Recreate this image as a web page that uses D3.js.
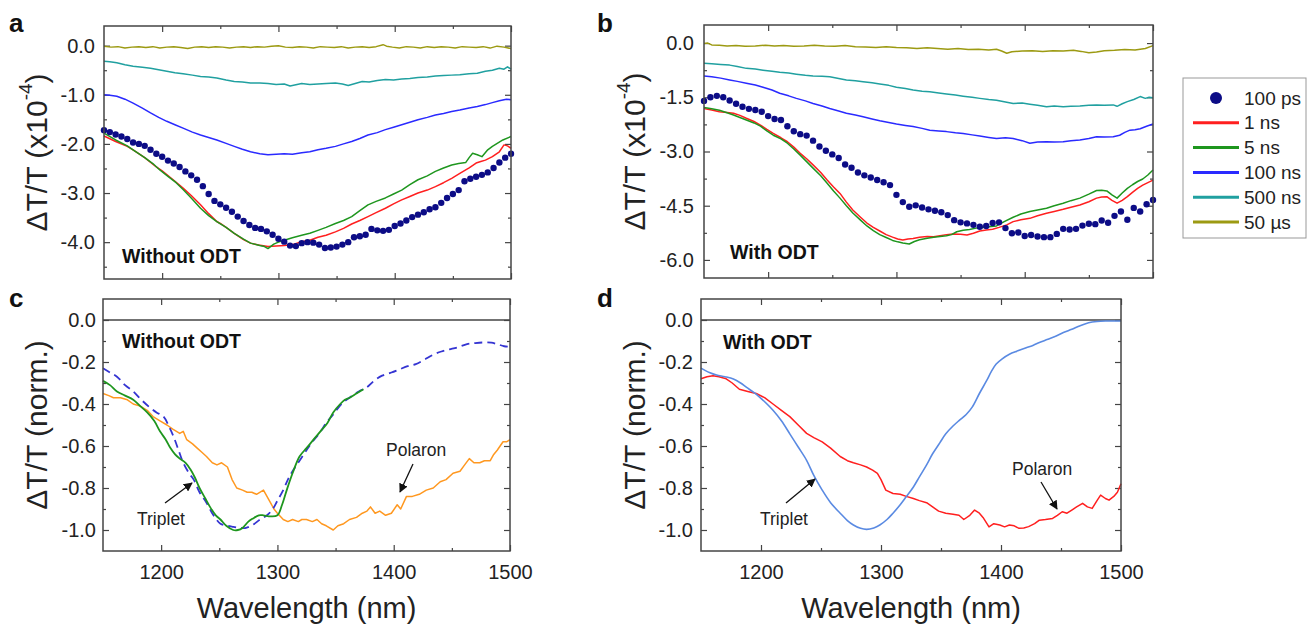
<!DOCTYPE html>
<html>
<head>
<meta charset="utf-8">
<script src="https://cdn.jsdelivr.net/npm/d3@7"></script>
<style>
  body { margin: 0; background: #fff; }
  svg { display: block; font-family: "Liberation Sans", Arial, sans-serif; }
</style>
</head>
<body>
<div id="chart"></div>
<script>
// ---- data: [wavelength nm, dT/T] ----
const legendLabels = ["100 ps", "1 ns", "5 ns", "100 ns", "500 ns", "50 \u00b5s"];
const xMajor = [1200, 1300, 1400, 1500];
const xMinor = [1250, 1350, 1450];

// panel a (without ODT), x1e-4
const aPs100 = [[1150,-1.72],[1155,-1.76],[1160,-1.81],[1165,-1.85],[1170,-1.90],[1175,-1.97],[1180,-2.00],[1185,-2.04],[1190,-2.12],[1195,-2.20],[1200,-2.26],[1205,-2.34],[1210,-2.40],[1215,-2.47],[1220,-2.56],[1225,-2.64],[1230,-2.73],[1235,-2.86],[1240,-3.02],[1245,-3.16],[1250,-3.23],[1255,-3.30],[1260,-3.38],[1265,-3.48],[1270,-3.57],[1275,-3.65],[1280,-3.71],[1285,-3.73],[1290,-3.78],[1295,-3.85],[1300,-3.93],[1305,-3.99],[1310,-4.07],[1315,-4.08],[1320,-4.02],[1325,-4.00],[1330,-4.01],[1335,-4.05],[1340,-4.12],[1345,-4.11],[1350,-4.09],[1355,-4.05],[1360,-4.00],[1365,-3.90],[1370,-3.88],[1375,-3.85],[1380,-3.73],[1385,-3.76],[1390,-3.77],[1395,-3.75],[1400,-3.67],[1405,-3.62],[1410,-3.56],[1415,-3.49],[1420,-3.44],[1425,-3.39],[1430,-3.33],[1435,-3.29],[1440,-3.20],[1445,-3.10],[1450,-3.02],[1455,-2.94],[1460,-2.76],[1465,-2.71],[1470,-2.67],[1475,-2.63],[1480,-2.58],[1485,-2.49],[1490,-2.38],[1495,-2.28],[1500,-2.20]];
const aNs1 = [[1150,-1.84],[1160,-1.95],[1170,-2.05],[1175,-2.12],[1185,-2.28],[1195,-2.47],[1200,-2.55],[1210,-2.74],[1218,-2.90],[1225,-3.05],[1233,-3.24],[1240,-3.42],[1247,-3.58],[1250,-3.62],[1255,-3.70],[1262,-3.82],[1270,-3.95],[1276,-4.02],[1283,-4.06],[1291,-4.09],[1298,-4.08],[1305,-4.07],[1312,-4.05],[1320,-3.99],[1327,-3.96],[1334,-3.90],[1341,-3.86],[1349,-3.79],[1356,-3.72],[1363,-3.63],[1370,-3.56],[1377,-3.48],[1384,-3.40],[1392,-3.31],[1399,-3.22],[1406,-3.14],[1413,-3.07],[1420,-3.00],[1428,-2.94],[1435,-2.87],[1442,-2.79],[1449,-2.70],[1456,-2.60],[1464,-2.49],[1470,-2.39],[1474,-2.36],[1478,-2.33],[1484,-2.26],[1490,-2.16],[1494,-2.02],[1497,-2.04],[1500,-2.09]];
const aNs5 = [[1150,-1.78],[1160,-1.92],[1170,-2.04],[1175,-2.12],[1185,-2.28],[1192,-2.40],[1198,-2.53],[1205,-2.66],[1212,-2.79],[1218,-2.93],[1225,-3.10],[1233,-3.31],[1240,-3.46],[1247,-3.58],[1255,-3.70],[1262,-3.82],[1270,-3.94],[1276,-4.02],[1284,-4.07],[1288,-4.09],[1291,-4.13],[1296,-4.04],[1300,-4.00],[1305,-3.96],[1312,-3.91],[1320,-3.86],[1327,-3.82],[1334,-3.76],[1341,-3.70],[1349,-3.62],[1356,-3.56],[1363,-3.48],[1370,-3.36],[1377,-3.24],[1384,-3.17],[1392,-3.10],[1399,-3.02],[1406,-2.94],[1413,-2.83],[1420,-2.73],[1428,-2.65],[1435,-2.56],[1442,-2.49],[1449,-2.43],[1455,-2.40],[1461,-2.38],[1464,-2.28],[1467,-2.19],[1471,-2.22],[1475,-2.26],[1480,-2.12],[1484,-2.05],[1493,-1.92],[1500,-1.85]];
const aNs100 = [[1150,-1.00],[1155,-1.01],[1161,-1.03],[1168,-1.09],[1175,-1.17],[1183,-1.27],[1190,-1.37],[1197,-1.46],[1204,-1.54],[1211,-1.61],[1218,-1.68],[1226,-1.76],[1233,-1.82],[1240,-1.87],[1247,-1.92],[1255,-1.99],[1262,-2.05],[1269,-2.11],[1276,-2.16],[1284,-2.20],[1291,-2.22],[1298,-2.21],[1305,-2.20],[1312,-2.21],[1320,-2.18],[1327,-2.16],[1334,-2.12],[1341,-2.09],[1349,-2.05],[1356,-2.00],[1363,-1.95],[1370,-1.89],[1377,-1.82],[1385,-1.77],[1392,-1.71],[1399,-1.66],[1406,-1.61],[1413,-1.56],[1420,-1.51],[1428,-1.46],[1435,-1.41],[1442,-1.38],[1449,-1.34],[1456,-1.31],[1464,-1.27],[1471,-1.24],[1478,-1.20],[1484,-1.16],[1490,-1.12],[1496,-1.09],[1500,-1.10]];
const aNs500 = [[1150,-0.32],[1155,-0.33],[1161,-0.35],[1168,-0.39],[1175,-0.42],[1183,-0.44],[1190,-0.46],[1197,-0.49],[1204,-0.52],[1211,-0.55],[1218,-0.57],[1226,-0.60],[1233,-0.63],[1240,-0.64],[1247,-0.66],[1255,-0.70],[1262,-0.73],[1269,-0.74],[1276,-0.76],[1284,-0.76],[1291,-0.77],[1298,-0.79],[1305,-0.78],[1310,-0.82],[1314,-0.80],[1320,-0.77],[1327,-0.79],[1334,-0.78],[1341,-0.77],[1349,-0.76],[1355,-0.78],[1360,-0.81],[1366,-0.77],[1372,-0.73],[1378,-0.74],[1385,-0.71],[1392,-0.69],[1399,-0.70],[1406,-0.68],[1413,-0.67],[1420,-0.65],[1428,-0.64],[1435,-0.62],[1442,-0.61],[1449,-0.60],[1456,-0.59],[1464,-0.57],[1471,-0.56],[1478,-0.52],[1484,-0.50],[1490,-0.46],[1494,-0.48],[1497,-0.43],[1500,-0.48]];
const aUs50 = [[1150,-0.01],[1156,-0.03],[1162,-0.02],[1168,-0.05],[1174,-0.03],[1180,-0.02],[1186,-0.04],[1192,-0.02],[1198,-0.05],[1204,-0.03],[1210,-0.02],[1216,-0.04],[1222,-0.06],[1228,-0.03],[1234,-0.02],[1240,-0.04],[1246,-0.02],[1252,-0.03],[1258,-0.05],[1264,-0.03],[1270,-0.02],[1276,-0.04],[1282,-0.02],[1288,-0.03],[1294,-0.01],[1300,0.00],[1306,-0.03],[1312,-0.04],[1318,-0.02],[1324,-0.03],[1330,-0.05],[1336,-0.02],[1342,-0.03],[1348,-0.04],[1354,-0.02],[1360,-0.05],[1366,-0.03],[1372,-0.02],[1378,-0.04],[1384,-0.02],[1390,0.02],[1393,-0.01],[1398,-0.03],[1404,-0.05],[1410,-0.02],[1416,-0.03],[1422,-0.05],[1428,-0.02],[1434,-0.04],[1440,-0.02],[1446,-0.03],[1452,-0.05],[1458,-0.02],[1464,-0.03],[1470,-0.04],[1476,-0.02],[1482,-0.05],[1488,-0.01],[1494,-0.03],[1500,-0.06]];

// panel b (with ODT), x1e-4
const bPs100 = [[1150,-1.60],[1155,-1.50],[1160,-1.46],[1165,-1.50],[1170,-1.59],[1175,-1.68],[1180,-1.76],[1185,-1.82],[1190,-1.85],[1195,-1.90],[1200,-2.02],[1205,-2.10],[1210,-2.13],[1215,-2.30],[1220,-2.44],[1225,-2.52],[1230,-2.56],[1235,-2.70],[1240,-2.86],[1245,-2.98],[1250,-3.08],[1255,-3.18],[1260,-3.36],[1265,-3.45],[1270,-3.58],[1275,-3.66],[1280,-3.72],[1285,-3.79],[1290,-3.85],[1295,-3.93],[1300,-4.20],[1305,-4.40],[1310,-4.53],[1315,-4.49],[1320,-4.55],[1325,-4.60],[1330,-4.64],[1335,-4.68],[1340,-4.76],[1345,-4.90],[1350,-4.96],[1355,-4.99],[1360,-5.03],[1365,-5.08],[1370,-5.06],[1375,-4.98],[1380,-4.96],[1385,-5.12],[1390,-5.26],[1395,-5.24],[1400,-5.34],[1405,-5.31],[1410,-5.35],[1415,-5.37],[1420,-5.37],[1425,-5.28],[1430,-5.14],[1435,-5.16],[1440,-5.14],[1445,-5.05],[1450,-5.00],[1455,-5.01],[1460,-4.91],[1465,-4.97],[1470,-4.78],[1475,-4.66],[1480,-4.89],[1485,-4.56],[1490,-4.66],[1495,-4.46],[1500,-4.34]];
const bNs1 = [[1150,-1.81],[1156,-1.85],[1162,-1.90],[1168,-1.92],[1173,-1.94],[1178,-2.00],[1183,-2.08],[1189,-2.17],[1194,-2.27],[1199,-2.39],[1204,-2.50],[1210,-2.62],[1215,-2.73],[1220,-2.88],[1225,-3.05],[1230,-3.20],[1235,-3.37],[1241,-3.58],[1246,-3.79],[1251,-3.98],[1256,-4.16],[1261,-4.40],[1266,-4.62],[1272,-4.82],[1277,-4.98],[1282,-5.10],[1287,-5.20],[1292,-5.30],[1297,-5.37],[1301,-5.42],[1305,-5.45],[1309,-5.42],[1313,-5.41],[1318,-5.37],[1324,-5.35],[1329,-5.36],[1334,-5.33],[1339,-5.30],[1344,-5.28],[1350,-5.29],[1355,-5.31],[1360,-5.26],[1365,-5.20],[1370,-5.17],[1375,-5.15],[1380,-5.10],[1386,-5.03],[1391,-4.94],[1397,-4.89],[1404,-4.85],[1410,-4.78],[1417,-4.71],[1423,-4.66],[1430,-4.60],[1436,-4.54],[1443,-4.48],[1450,-4.39],[1456,-4.29],[1460,-4.26],[1464,-4.25],[1468,-4.35],[1472,-4.43],[1476,-4.35],[1480,-4.25],[1484,-4.13],[1488,-4.02],[1492,-3.93],[1496,-3.86],[1500,-3.79]];
const bNs5 = [[1150,-1.78],[1156,-1.82],[1162,-1.86],[1168,-1.93],[1173,-1.99],[1178,-2.06],[1183,-2.13],[1189,-2.21],[1194,-2.30],[1199,-2.43],[1204,-2.55],[1210,-2.65],[1215,-2.77],[1220,-2.93],[1225,-3.10],[1230,-3.28],[1235,-3.46],[1241,-3.67],[1246,-3.88],[1251,-4.09],[1256,-4.29],[1261,-4.50],[1266,-4.70],[1272,-4.90],[1277,-5.06],[1282,-5.19],[1287,-5.30],[1292,-5.38],[1297,-5.46],[1301,-5.50],[1305,-5.53],[1310,-5.56],[1314,-5.49],[1318,-5.44],[1324,-5.40],[1329,-5.37],[1334,-5.35],[1339,-5.33],[1343,-5.30],[1347,-5.22],[1352,-5.18],[1357,-5.16],[1362,-5.12],[1367,-5.10],[1372,-5.08],[1378,-5.06],[1384,-4.94],[1391,-4.82],[1397,-4.73],[1404,-4.66],[1410,-4.62],[1417,-4.57],[1423,-4.50],[1430,-4.43],[1436,-4.36],[1443,-4.29],[1450,-4.18],[1456,-4.08],[1460,-4.07],[1464,-4.09],[1468,-4.20],[1472,-4.29],[1476,-4.15],[1480,-4.02],[1484,-3.92],[1488,-3.83],[1492,-3.76],[1496,-3.65],[1500,-3.51]];
const bNs100 = [[1150,-0.91],[1156,-0.93],[1163,-0.97],[1170,-1.02],[1176,-1.06],[1183,-1.11],[1190,-1.16],[1196,-1.22],[1203,-1.30],[1209,-1.39],[1216,-1.46],[1222,-1.53],[1229,-1.60],[1235,-1.67],[1242,-1.74],[1248,-1.81],[1255,-1.88],[1261,-1.94],[1268,-1.99],[1274,-2.04],[1281,-2.10],[1287,-2.15],[1294,-2.20],[1300,-2.24],[1307,-2.28],[1313,-2.31],[1320,-2.36],[1326,-2.41],[1333,-2.43],[1339,-2.45],[1346,-2.48],[1352,-2.50],[1359,-2.54],[1365,-2.57],[1372,-2.61],[1378,-2.64],[1385,-2.62],[1391,-2.64],[1398,-2.70],[1404,-2.77],[1410,-2.74],[1417,-2.73],[1423,-2.74],[1430,-2.73],[1436,-2.70],[1443,-2.68],[1450,-2.64],[1456,-2.59],[1462,-2.60],[1469,-2.59],[1474,-2.55],[1478,-2.47],[1482,-2.41],[1486,-2.40],[1490,-2.37],[1495,-2.30],[1500,-2.24]];
const bNs500 = [[1150,-0.56],[1156,-0.57],[1163,-0.59],[1170,-0.61],[1176,-0.65],[1183,-0.70],[1190,-0.72],[1196,-0.75],[1203,-0.78],[1209,-0.81],[1216,-0.83],[1222,-0.86],[1229,-0.89],[1235,-0.91],[1242,-0.92],[1248,-0.93],[1255,-0.98],[1261,-1.02],[1268,-1.04],[1274,-1.07],[1281,-1.10],[1287,-1.13],[1294,-1.17],[1300,-1.22],[1307,-1.26],[1313,-1.30],[1320,-1.33],[1326,-1.35],[1333,-1.38],[1339,-1.41],[1346,-1.44],[1352,-1.47],[1359,-1.50],[1365,-1.53],[1372,-1.56],[1378,-1.58],[1385,-1.63],[1391,-1.67],[1398,-1.66],[1404,-1.69],[1410,-1.72],[1417,-1.76],[1423,-1.74],[1430,-1.76],[1436,-1.75],[1443,-1.74],[1450,-1.72],[1456,-1.71],[1462,-1.72],[1469,-1.71],[1472,-1.75],[1476,-1.68],[1480,-1.62],[1485,-1.56],[1490,-1.48],[1494,-1.53],[1497,-1.50],[1500,-1.51]];
const bUs50 = [[1150,-0.01],[1153,0.00],[1156,-0.05],[1162,-0.06],[1168,-0.08],[1175,-0.07],[1182,-0.09],[1190,-0.08],[1198,-0.06],[1205,-0.08],[1212,-0.07],[1220,-0.09],[1228,-0.08],[1236,-0.06],[1244,-0.08],[1252,-0.09],[1260,-0.07],[1268,-0.10],[1276,-0.11],[1284,-0.12],[1292,-0.10],[1300,-0.12],[1308,-0.13],[1316,-0.15],[1324,-0.13],[1332,-0.15],[1340,-0.17],[1348,-0.15],[1356,-0.18],[1364,-0.17],[1372,-0.19],[1378,-0.17],[1382,-0.22],[1386,-0.28],[1390,-0.24],[1398,-0.22],[1406,-0.21],[1414,-0.23],[1422,-0.21],[1430,-0.22],[1438,-0.20],[1444,-0.23],[1450,-0.27],[1456,-0.25],[1462,-0.21],[1470,-0.20],[1478,-0.18],[1486,-0.19],[1494,-0.15],[1500,-0.07]];

// panel c (without ODT), normalised
const cPolaron = [[1150,-0.35],[1155,-0.36],[1159,-0.37],[1165,-0.37],[1171,-0.38],[1176,-0.40],[1182,-0.41],[1188,-0.43],[1193,-0.46],[1199,-0.48],[1205,-0.50],[1210,-0.52],[1216,-0.54],[1219,-0.53],[1222,-0.57],[1227,-0.59],[1231,-0.61],[1235,-0.63],[1239,-0.65],[1244,-0.68],[1248,-0.69],[1252,-0.68],[1257,-0.70],[1261,-0.76],[1265,-0.80],[1270,-0.81],[1274,-0.82],[1278,-0.82],[1282,-0.83],[1288,-0.81],[1291,-0.84],[1294,-0.87],[1297,-0.90],[1300,-0.92],[1305,-0.95],[1309,-0.96],[1313,-0.95],[1318,-0.96],[1321,-0.95],[1325,-0.95],[1330,-0.96],[1334,-0.95],[1338,-0.97],[1342,-0.98],[1348,-1.00],[1352,-0.98],[1357,-0.97],[1362,-0.95],[1368,-0.94],[1373,-0.92],[1377,-0.91],[1380,-0.89],[1384,-0.92],[1388,-0.91],[1393,-0.93],[1398,-0.92],[1403,-0.88],[1406,-0.90],[1411,-0.84],[1416,-0.84],[1422,-0.83],[1428,-0.81],[1434,-0.80],[1440,-0.77],[1445,-0.76],[1451,-0.73],[1457,-0.72],[1461,-0.69],[1465,-0.66],[1469,-0.68],[1474,-0.68],[1478,-0.67],[1483,-0.67],[1486,-0.64],[1489,-0.62],[1494,-0.58],[1497,-0.58],[1500,-0.57]];
const cTriplet = [[1150,-0.29],[1156,-0.31],[1162,-0.34],[1169,-0.36],[1176,-0.38],[1182,-0.41],[1188,-0.44],[1194,-0.48],[1199,-0.53],[1204,-0.57],[1208,-0.61],[1212,-0.64],[1216,-0.66],[1221,-0.68],[1225,-0.71],[1229,-0.75],[1233,-0.80],[1238,-0.85],[1242,-0.89],[1247,-0.93],[1251,-0.95],[1256,-0.98],[1262,-1.00],[1266,-1.00],[1270,-0.99],[1275,-0.96],[1279,-0.945],[1284,-0.93],[1288,-0.93],[1294,-0.935],[1300,-0.93],[1304,-0.88],[1308,-0.81],[1313,-0.73],[1319,-0.65],[1325,-0.61],[1331,-0.57],[1337,-0.53],[1343,-0.49],[1348,-0.44],[1354,-0.40],[1358,-0.38],[1362,-0.37],[1368,-0.35],[1374,-0.33]];
const cTripletDash = [[1150,-0.23],[1156,-0.25],[1162,-0.27],[1169,-0.31],[1176,-0.34],[1183,-0.38],[1190,-0.415],[1196,-0.44],[1202,-0.46],[1207,-0.51],[1211,-0.56],[1215,-0.62],[1219,-0.68],[1224,-0.73],[1228,-0.76],[1233,-0.82],[1239,-0.87],[1245,-0.93],[1251,-0.97],[1257,-0.98],[1262,-0.985],[1268,-0.99],[1273,-0.99],[1279,-0.975],[1285,-0.95],[1291,-0.93],[1296,-0.90],[1300,-0.86],[1305,-0.81],[1309,-0.76],[1313,-0.72],[1319,-0.67],[1325,-0.62],[1330,-0.58],[1336,-0.54],[1342,-0.49],[1348,-0.45],[1355,-0.40],[1362,-0.37],[1370,-0.34],[1377,-0.32],[1383,-0.29],[1390,-0.265],[1398,-0.25],[1405,-0.235],[1412,-0.22],[1419,-0.21],[1426,-0.19],[1434,-0.165],[1441,-0.15],[1448,-0.14],[1455,-0.13],[1463,-0.115],[1470,-0.11],[1477,-0.107],[1484,-0.108],[1489,-0.115],[1495,-0.125],[1500,-0.128]];

// panel d (with ODT), normalised
const dPolaron = [[1150,-0.28],[1155,-0.27],[1160,-0.265],[1165,-0.27],[1171,-0.28],[1176,-0.30],[1182,-0.33],[1189,-0.34],[1196,-0.35],[1203,-0.37],[1210,-0.40],[1217,-0.43],[1224,-0.46],[1231,-0.50],[1238,-0.54],[1244,-0.56],[1251,-0.58],[1258,-0.61],[1266,-0.65],[1272,-0.67],[1277,-0.68],[1283,-0.69],[1288,-0.70],[1293,-0.715],[1297,-0.73],[1300,-0.76],[1304,-0.81],[1310,-0.826],[1316,-0.83],[1321,-0.84],[1327,-0.85],[1332,-0.86],[1338,-0.87],[1343,-0.89],[1348,-0.91],[1354,-0.92],[1360,-0.925],[1365,-0.93],[1369,-0.95],[1374,-0.93],[1378,-0.905],[1382,-0.92],[1385,-0.94],[1390,-0.985],[1394,-0.97],[1399,-0.976],[1403,-0.985],[1407,-0.976],[1411,-0.98],[1415,-0.992],[1419,-0.99],[1423,-0.984],[1428,-0.97],[1432,-0.953],[1437,-0.95],[1443,-0.945],[1447,-0.93],[1451,-0.913],[1455,-0.92],[1459,-0.905],[1463,-0.89],[1468,-0.873],[1472,-0.89],[1476,-0.897],[1480,-0.86],[1483,-0.834],[1487,-0.85],[1490,-0.858],[1494,-0.84],[1497,-0.82],[1500,-0.78]];
const dTriplet = [[1150,-0.229],[1157,-0.25],[1163,-0.262],[1170,-0.27],[1177,-0.281],[1183,-0.30],[1188,-0.321],[1194,-0.345],[1199,-0.368],[1205,-0.40],[1210,-0.43],[1217,-0.48],[1224,-0.542],[1231,-0.605],[1238,-0.668],[1244,-0.74],[1251,-0.81],[1258,-0.87],[1266,-0.92],[1272,-0.955],[1277,-0.976],[1283,-0.992],[1288,-0.997],[1294,-0.99],[1299,-0.976],[1305,-0.95],[1310,-0.92],[1316,-0.88],[1321,-0.842],[1327,-0.795],[1332,-0.747],[1338,-0.69],[1343,-0.637],[1349,-0.585],[1354,-0.542],[1360,-0.505],[1365,-0.479],[1371,-0.45],[1376,-0.415],[1382,-0.35],[1388,-0.289],[1392,-0.245],[1396,-0.21],[1401,-0.185],[1407,-0.163],[1414,-0.147],[1421,-0.132],[1427,-0.12],[1432,-0.107],[1439,-0.092],[1446,-0.076],[1452,-0.06],[1459,-0.044],[1466,-0.027],[1473,-0.013],[1480,-0.007],[1487,-0.005],[1500,-0.005]];

// ---- drawing ----
const W = 1307, H = 626;
const C = {
  navy: "#0c0c86", red: "#ff1f1f", green: "#1e961e", blue: "#2a2aff",
  teal: "#20a0a0", olive: "#9c9a12", orange: "#ff9820", dash: "#3434d2", light: "#5a8ae2"
};
const svg = d3.select("#chart").append("svg").attr("width", W).attr("height", H);

const defs = svg.append("defs");
defs.append("marker")
  .attr("id", "head")
  .attr("viewBox", "0 -5 10 10")
  .attr("refX", 9).attr("refY", 0)
  .attr("markerWidth", 9).attr("markerHeight", 9)
  .attr("markerUnits", "userSpaceOnUse")
  .attr("orient", "auto")
  .append("path").attr("d", "M0,-5L10,0L0,5Z").attr("fill", "#111");

const fmt = d => (Math.abs(d) < 1e-9 ? 0 : d).toFixed(1);

function panel(p) {
  const x = d3.scaleLinear([1150, 1500], [p.left, p.right]);
  const y = d3.scaleLinear(p.yDomain, [p.bottom, p.top]);
  const g = svg.append("g");

  const put = (axis, tx, ty) => g.append("g")
    .attr("transform", `translate(${tx},${ty})`)
    .call(axis)
    .call(s => s.select(".domain").remove())
    .call(s => s.selectAll("line").attr("stroke", "#444").attr("stroke-width", 1.2))
    .call(s => s.selectAll("text").attr("fill", "#222").style("font-size", "20px"));

  // y ticks, left with labels + right mirrored
  put(d3.axisLeft(y).tickValues(p.yMajor).tickSizeInner(-6).tickSizeOuter(0).tickPadding(p.yPad).tickFormat(fmt), p.left, 0);
  put(d3.axisLeft(y).tickValues(p.yMinor).tickSizeInner(-3).tickSizeOuter(0).tickFormat(""), p.left, 0);
  put(d3.axisRight(y).tickValues(p.yMajor).tickSizeInner(-6).tickSizeOuter(0).tickFormat(""), p.right, 0);
  put(d3.axisRight(y).tickValues(p.yMinor).tickSizeInner(-3).tickSizeOuter(0).tickFormat(""), p.right, 0);
  // x ticks, bottom (labels only in lower row) + top mirrored
  put(d3.axisBottom(x).tickValues(xMajor).tickSizeInner(-6).tickSizeOuter(0).tickPadding(14)
    .tickFormat(p.xLabels ? d3.format("d") : ""), 0, p.bottom);
  put(d3.axisBottom(x).tickValues(xMinor).tickSizeInner(-3).tickSizeOuter(0).tickFormat(""), 0, p.bottom);
  put(d3.axisTop(x).tickValues(xMajor).tickSizeInner(-6).tickSizeOuter(0).tickFormat(""), 0, p.top);
  put(d3.axisTop(x).tickValues(xMinor).tickSizeInner(-3).tickSizeOuter(0).tickFormat(""), 0, p.top);

  if (p.zeroLine) {
    g.append("line")
      .attr("x1", p.left).attr("x2", p.right)
      .attr("y1", y(0)).attr("y2", y(0))
      .attr("stroke", "#444").attr("stroke-width", 1.5);
  }

  const line = d3.line().x(d => x(d[0])).y(d => y(d[1]));
  p.lines.forEach(s => {
    g.append("path")
      .datum(s.data)
      .attr("fill", "none")
      .attr("stroke", s.color)
      .attr("stroke-width", s.width || 1.5)
      .attr("stroke-dasharray", s.dash || null)
      .attr("stroke-linejoin", "round")
      .attr("d", line.curve(s.smooth ? d3.curveCatmullRom : d3.curveLinear));
  });

  if (p.dots) {
    g.append("g").selectAll("circle")
      .data(p.dots)
      .join("circle")
      .attr("cx", d => x(d[0]))
      .attr("cy", d => y(d[1]))
      .attr("r", 3.2)
      .attr("fill", C.navy);
  }

  // frame
  g.append("rect")
    .attr("x", p.left).attr("y", p.top)
    .attr("width", p.right - p.left).attr("height", p.bottom - p.top)
    .attr("fill", "none").attr("stroke", "#444").attr("stroke-width", 1.5);

  // y title
  const t = g.append("text")
    .attr("transform", `translate(${p.titleX},${(p.top + p.bottom) / 2}) rotate(-90)`)
    .attr("text-anchor", "middle")
    .attr("dominant-baseline", "central")
    .attr("fill", "#222")
    .style("font-size", "30px");
  if (p.exp) {
    t.append("tspan").text("\u0394T/T (x10");
    t.append("tspan").attr("dy", -11).style("font-size", "19px").text("-4");
    t.append("tspan").attr("dy", 11).text(")");
  } else {
    t.text("\u0394T/T (norm.)");
  }

  if (p.xLabels) {
    g.append("text")
      .attr("x", (p.left + p.right) / 2).attr("y", 618)
      .attr("text-anchor", "middle")
      .attr("fill", "#222")
      .style("font-size", "29px")
      .text("Wavelength (nm)");
  }

  // panel letter and sample label
  g.append("text").attr("x", p.letter[1]).attr("y", p.letter[2])
    .style("font-size", "26px").style("font-weight", "bold").attr("fill", "#111")
    .text(p.letter[0]);
  g.append("text").attr("x", p.note[1]).attr("y", p.note[2])
    .style("font-size", "19.5px").style("font-weight", "bold").attr("fill", "#111")
    .text(p.note[0]);

  (p.arrows || []).forEach(a => {
    g.append("text").attr("x", a.tx).attr("y", a.ty)
      .style("font-size", "17.5px").attr("fill", "#222").text(a.label);
    g.append("line")
      .attr("x1", a.from[0]).attr("y1", a.from[1])
      .attr("x2", a.to[0]).attr("y2", a.to[1])
      .attr("stroke", "#111").attr("stroke-width", 1.3)
      .attr("marker-end", "url(#head)");
  });
}

panel({
  left: 104, right: 511, top: 26, bottom: 279,
  yDomain: [-4.75, 0.4], yMajor: [0, -1, -2, -3, -4], yMinor: [-0.5, -1.5, -2.5, -3.5, -4.5], yPad: 9,
  xLabels: false, exp: true, titleX: 36,
  letter: ["a", 9, 32], note: ["Without ODT", 122, 263],
  lines: [
    { data: aUs50, color: C.olive }, { data: aNs500, color: C.teal },
    { data: aNs100, color: C.blue }, { data: aNs1, color: C.red }, { data: aNs5, color: C.green }
  ],
  dots: aPs100
});

panel({
  left: 704, right: 1153, top: 25, bottom: 278,
  yDomain: [-6.5, 0.5], yMajor: [0, -1.5, -3, -4.5, -6], yMinor: [-0.75, -2.25, -3.75, -5.25], yPad: 10,
  xLabels: false, exp: true, titleX: 634,
  letter: ["b", 597, 32], note: ["With ODT", 730, 259],
  lines: [
    { data: bUs50, color: C.olive }, { data: bNs500, color: C.teal },
    { data: bNs100, color: C.blue }, { data: bNs1, color: C.red }, { data: bNs5, color: C.green }
  ],
  dots: bPs100
});

panel({
  left: 103, right: 510, top: 299, bottom: 551,
  yDomain: [-1.1, 0.1], yMajor: [0, -0.2, -0.4, -0.6, -0.8, -1.0], yMinor: [-0.1, -0.3, -0.5, -0.7, -0.9], yPad: 7,
  xLabels: true, exp: false, titleX: 36, zeroLine: true,
  letter: ["c", 9, 307], note: ["Without ODT", 122, 348],
  lines: [
    { data: cPolaron, color: C.orange },
    { data: cTripletDash, color: C.dash, dash: "8,5", smooth: true, width: 1.8 },
    { data: cTriplet, color: C.green, smooth: true, width: 1.8 }
  ],
  arrows: [
    { label: "Triplet", tx: 137, ty: 525, from: [165, 503], to: [192, 483] },
    { label: "Polaron", tx: 386, ty: 456, from: [413, 464], to: [400, 492] }
  ]
});

panel({
  left: 701, right: 1121, top: 299, bottom: 551,
  yDomain: [-1.1, 0.1], yMajor: [0, -0.2, -0.4, -0.6, -0.8, -1.0], yMinor: [-0.1, -0.3, -0.5, -0.7, -0.9], yPad: 8,
  xLabels: true, exp: false, titleX: 634, zeroLine: true,
  letter: ["d", 597, 307], note: ["With ODT", 723, 349],
  lines: [
    { data: dPolaron, color: C.red },
    { data: dTriplet, color: C.light, smooth: true, width: 1.6 }
  ],
  arrows: [
    { label: "Triplet", tx: 760, ty: 525, from: [786, 503], to: [815, 479] },
    { label: "Polaron", tx: 1012, ty: 475, from: [1041, 482], to: [1057, 509] }
  ]
});

// ---- legend ----
const legendColors = [C.navy, C.red, C.green, C.blue, C.teal, C.olive];
const lg = svg.append("g");
lg.append("rect")
  .attr("x", 1183).attr("y", 78).attr("width", 123).attr("height", 160)
  .attr("fill", "#fff").attr("stroke", "#999").attr("stroke-width", 1);
const ly = d3.scalePoint(legendLabels, [98, 222]);
const item = lg.selectAll("g.item").data(legendLabels).join("g")
  .attr("class", "item")
  .attr("transform", d => `translate(0,${ly(d)})`);
item.filter((d, i) => i === 0).append("circle")
  .attr("cx", 1216).attr("cy", 0).attr("r", 6).attr("fill", C.navy);
item.filter((d, i) => i > 0).append("line")
  .attr("x1", 1193).attr("x2", 1239)
  .attr("stroke", (d, i) => legendColors[i + 1]).attr("stroke-width", 3);
item.append("text")
  .attr("x", 1244).attr("dy", "0.35em")
  .attr("fill", "#222").style("font-size", "19px")
  .text(d => d);
</script>
</body>
</html>
